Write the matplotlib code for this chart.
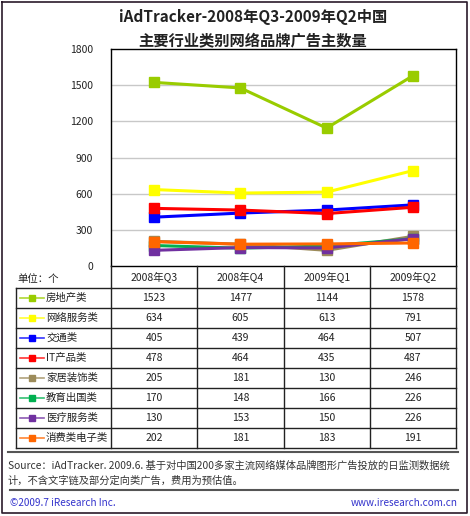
import matplotlib.pyplot as plt
from matplotlib.lines import Line2D

plt.rcParams['font.family'] = ['Noto Sans CJK SC', 'DejaVu Sans']

quarters = ['2008年Q3', '2008年Q4', '2009年Q1', '2009年Q2']
names = ['房地产类', '网络服务类', '交通类', 'IT产品类', '家居装饰类', '教育出国类', '医疗服务类', '消费类电子类']
real_estate = [1523, 1477, 1144, 1578]
web_service = [634, 605, 613, 791]
transport = [405, 439, 464, 507]
it_products = [478, 464, 435, 487]
home_deco = [205, 181, 130, 246]
education = [170, 148, 166, 226]
medical = [130, 153, 150, 226]
electronics = [202, 181, 183, 191]
series = [real_estate, web_service, transport, it_products, home_deco, education, medical, electronics]
colors = ['#99CC00', '#FFFF00', '#0000FF', '#FF0000', '#9C8B5A', '#00B050', '#7030A0', '#FF6600']
yticks = [0, 300, 600, 900, 1200, 1500, 1800]

W, H = 470, 516
fig = plt.figure(figsize=(W / 100, H / 100), dpi=100)

# plot area in pixels
L, R, T, B = 111, 456, 49, 266
ax = fig.add_axes([L / W, 1 - B / H, (R - L) / W, (B - T) / H])
for i, vals in enumerate(series):
    ax.plot(range(len(quarters)), vals, color=colors[i], lw=2.2, marker='s',
            markersize=6.5, zorder=3 + i)
ax.set_xlim(-0.5, len(quarters) - 0.5)
ax.set_ylim(0, 1800)
ax.set_yticks(yticks)
ax.set_yticklabels([str(v) for v in yticks], fontsize=7.5, color='#222222')
ax.tick_params(axis='y', length=0, pad=13)
ax.set_xticks([])
for v in yticks[1:-1]:
    ax.axhline(v, color='#C8C8C8', lw=1, zorder=1)
for s in ax.spines.values():
    s.set_color('black')
    s.set_linewidth(1)

fig.text(253 / W, 1 - 17 / H, 'iAdTracker-2008年Q3-2009年Q2中国', ha='center', va='center',
         fontsize=11, fontweight='bold', color='#222222')
fig.text(253 / W, 1 - 40 / H, '主要行业类别网络品牌广告主数量', ha='center', va='center',
         fontsize=11, fontweight='bold', color='#222222')

# overlay in pixel coordinates for the table and footer
ov = fig.add_axes([0, 0, 1, 1], zorder=10)
ov.set_xlim(0, W)
ov.set_ylim(H, 0)
ov.axis('off')
ov.patch.set_alpha(0)

# outer frame
ov.plot([2, 467, 467, 2, 2], [2, 2, 513, 513, 2], color='#2A1A2A', lw=1.2)

cols = [L + (R - L) * k / len(quarters) for k in range(len(quarters) + 1)]
hdr_top, hdr_bot = B, 288
row_h = 20
tab_bot = hdr_bot + row_h * len(names)
lab_left = 16
lc = '#222222'

# header row
ov.plot([L, R], [hdr_bot, hdr_bot], color=lc, lw=1)
for x in cols:
    ov.plot([x, x], [hdr_top, tab_bot], color=lc, lw=1)
for k, q in enumerate(quarters):
    ov.text((cols[k] + cols[k + 1]) / 2, (hdr_top + hdr_bot) / 2 + 1, q,
            ha='center', va='center', fontsize=7.5, color='#222222')
ov.text(17, 279, '单位：个', ha='left', va='center', fontsize=7.5, color='#222222')

# data rows
ov.plot([lab_left, lab_left], [hdr_bot, tab_bot], color=lc, lw=1)
for i, name in enumerate(names):
    y0 = hdr_bot + row_h * i
    yc = y0 + row_h / 2
    ov.plot([lab_left, R], [y0 + row_h, y0 + row_h], color=lc, lw=1)
    if i == 0:
        ov.plot([lab_left, L], [y0, y0], color=lc, lw=1)
    ov.add_line(Line2D([20, 44], [yc, yc], color=colors[i], lw=1.2, alpha=0.8))
    ov.plot([32], [yc], marker='s', markersize=4, color=colors[i])
    ov.text(46, yc, name, ha='left', va='center', fontsize=7.5, color='#222222')
    for k, v in enumerate(series[i]):
        ov.text((cols[k] + cols[k + 1]) / 2, yc, str(v), ha='center', va='center',
                fontsize=7.5, color='#222222')

# footer
ov.plot([8, 458], [452, 452], color='#555555', lw=1.5)
ov.plot([10, 458], [490, 490], color='#555555', lw=1.5)
ov.text(8, 466, 'Source：iAdTracker. 2009.6. 基于对中国200多家主流网络媒体品牌图形广告投放的日监测数据统',
        ha='left', va='center', fontsize=7.4, color='#333333')
ov.text(8, 481, '计，不含文字链及部分定向类广告，费用为预估值。',
        ha='left', va='center', fontsize=7.4, color='#333333')
ov.text(10, 503, '©2009.7 iResearch Inc.', ha='left', va='center', fontsize=7.2, color='#3333CC')
ov.text(458, 503, 'www.iresearch.com.cn', ha='right', va='center', fontsize=7.2, color='#3333CC')

fig.savefig('out.png', dpi=100)
